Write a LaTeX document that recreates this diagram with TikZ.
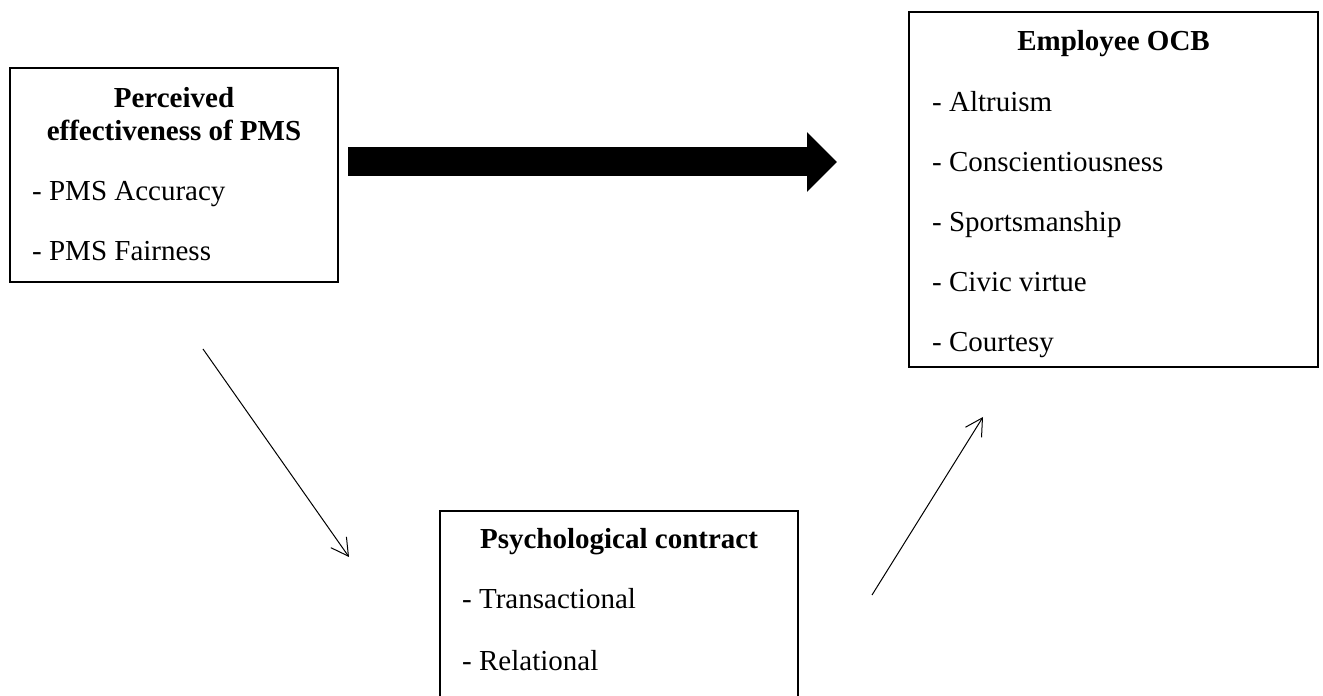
\documentclass[tikz,border=0pt]{standalone}
\usepackage{fontspec}
\setmainfont{Liberation Serif}
\usetikzlibrary{arrows.meta}

\begin{document}
\begin{tikzpicture}[x=1pt,y=1pt]

    \tikzset{
      BoxStyle/.style = { rectangle, draw, line width = 2pt,
                          inner sep = 0pt },
      TitleStyle/.style = { font = \fontsize{29}{33}\selectfont\bfseries,
                            align = center, inner sep = 0pt },
      ItemStyle/.style = { font = \fontsize{29}{33}\selectfont,
                           anchor = base west, inner sep = 0pt },
      LinkStyle/.style = { line width = 1pt,
                           -{Straight Barb[length=17pt,width=19pt]} },
      MainArrowStyle/.style = { line width = 29pt,
                                -{Triangle[length=30pt,width=58pt]} } }
      \path[use as bounding box, clip] (0,0) rectangle (1323,696);

      % boxes
      \node[BoxStyle, minimum width=328pt, minimum height=214pt] (pms) at (174,521) {};
      \node[BoxStyle, minimum width=409pt, minimum height=355pt] (ocb) at (1113.5,506.5) {};
      \node[BoxStyle, minimum width=358pt, minimum height=209pt] (psy) at (619,80.5) {};

      % perceived effectiveness of PMS
      \node[TitleStyle] (pmsT) at (174,582) {Perceived\\effectiveness of PMS};
      \node[ItemStyle] (pms1) at (32,495) {- PMS Accuracy};
      \node[ItemStyle] (pms2) at (32,435) {- PMS Fairness};

      % employee OCB
      \node[TitleStyle, anchor=base] (ocbT) at (1113.5,645) {Employee OCB};
      \node[ItemStyle] (ocb1) at (932,584.5) {- Altruism};
      \node[ItemStyle] (ocb2) at (932,524.5) {- Conscientiousness};
      \node[ItemStyle] (ocb3) at (932,464.5) {- Sportsmanship};
      \node[ItemStyle] (ocb4) at (932,404.5) {- Civic virtue};
      \node[ItemStyle] (ocb5) at (932,344.5) {- Courtesy};

      % psychological contract
      \node[TitleStyle, anchor=base] (psyT) at (619,147) {Psychological contract};
      \node[ItemStyle] (psy1) at (462,87) {- Transactional};
      \node[ItemStyle] (psy2) at (462,25) {- Relational};

      % arrows
      \coordinate (mainA) at (348,534);
      \coordinate (mainB) at (837,534);
      \coordinate (inA) at (203,347);
      \coordinate (inB) at (349,139);
      \coordinate (outA) at (872,101);
      \coordinate (outB) at (983,279);

      \draw[MainArrowStyle] (mainA) -- (mainB);
      \draw[LinkStyle] (inA) -- (inB);
      \draw[LinkStyle] (outA) -- (outB);
    \end{tikzpicture}
\end{document}
